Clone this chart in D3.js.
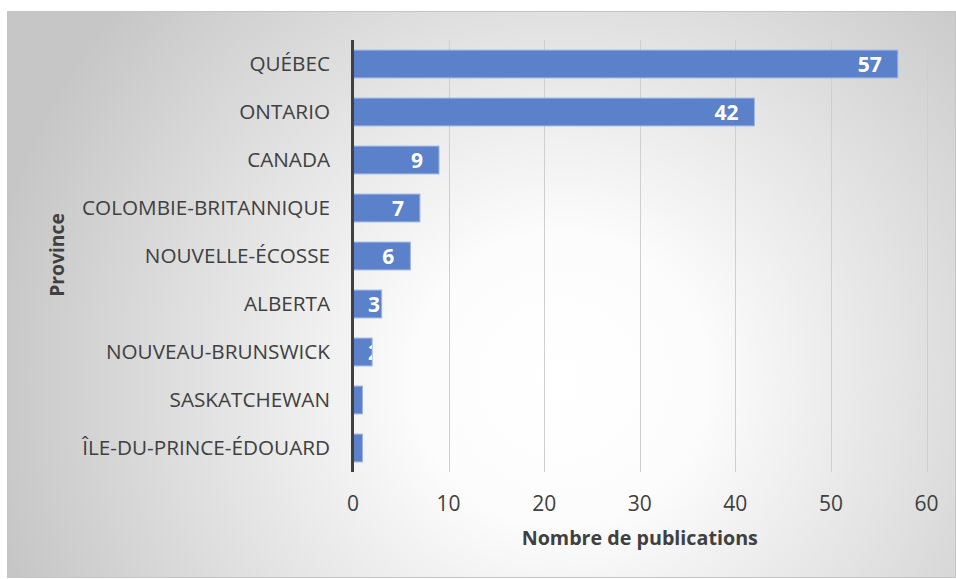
<!DOCTYPE html>
<html>
<head>
<meta charset="utf-8">
<script src="https://cdn.jsdelivr.net/npm/d3@7"></script>
<style>
  html, body { margin: 0; padding: 0; background: #ffffff; }
  svg { display: block; }
</style>
</head>
<body>
<svg id="chart" width="956" height="579"></svg>
<script>
const categories = ["QUÉBEC", "ONTARIO", "CANADA", "COLOMBIE-BRITANNIQUE", "NOUVELLE-ÉCOSSE", "ALBERTA", "NOUVEAU-BRUNSWICK", "SASKATCHEWAN", "ÎLE-DU-PRINCE-ÉDOUARD"];
const values = [57, 42, 9, 7, 6, 3, 2, 1, 1];
const xTicks = [0, 10, 20, 30, 40, 50, 60];
const xTitle = "Nombre de publications";
const yTitle = "Province";

const svg = d3.select("#chart");
const FONT = "'Open Sans', 'Noto Sans', sans-serif";
const TXT = "#404040";

// background
const defs = svg.append("defs");
const grad = defs.append("radialGradient").attr("id", "bg")
  .attr("gradientUnits", "userSpaceOnUse")
  .attr("cx", 560).attr("cy", 380).attr("r", 580);
grad.append("stop").attr("offset", "0%").attr("stop-color", "#ffffff");
grad.append("stop").attr("offset", "25%").attr("stop-color", "#fcfcfc");
grad.append("stop").attr("offset", "100%").attr("stop-color", "#c6c6c6");

svg.append("rect").attr("x", 7.5).attr("y", 11.5).attr("width", 948).attr("height", 566)
  .attr("fill", "url(#bg)").attr("stroke", "#c4c4c4").attr("stroke-width", 1);

const x = d3.scaleLinear().domain([0, 60]).range([353, 926.5]);
const y = d3.scaleBand().domain(categories).range([40, 472]).paddingInner(0.42).paddingOuter(0.21);

// gridlines
svg.append("g").selectAll("line").data(xTicks.filter(d => d > 0)).join("line")
  .attr("x1", d => Math.round(x(d)) + 0.5).attr("x2", d => Math.round(x(d)) + 0.5)
  .attr("y1", 40).attr("y2", 472)
  .attr("stroke", "#cfcfcf").attr("stroke-width", 1);

// bars
const barsG = svg.append("g");
const data = categories.map((c, i) => ({ c, v: values[i], i }));
data.forEach(d => {
  defs.append("clipPath").attr("id", "clip" + d.i)
    .append("rect").attr("x", x(0)).attr("y", y(d.c)).attr("width", x(d.v) - x(0)).attr("height", y.bandwidth());
});
barsG.selectAll("rect").data(data).join("rect")
  .attr("x", x(0)).attr("y", d => y(d.c))
  .attr("width", d => x(d.v) - x(0)).attr("height", y.bandwidth())
  .attr("fill", "#5a81c9").attr("stroke", "#9fb5e0").attr("stroke-width", 1);

// labels
const lblG = svg.append("g");
data.forEach(d => {
  const t = lblG.append("text")
    .attr("clip-path", "url(#clip" + d.i + ")")
    .attr("y", y(d.c) + y.bandwidth() / 2)
    .attr("dy", "0.36em")
    .attr("font-family", FONT).attr("font-size", 21).attr("font-weight", "bold")
    .attr("fill", "#ffffff").text(d.v);
  const w = t.node().getComputedTextLength();
  const xs = Math.max(x(d.v) - 16 - w, x(0) + 15);
  t.attr("x", xs);
});

// y axis line
svg.append("line").attr("x1", 352.5).attr("x2", 352.5).attr("y1", 40).attr("y2", 472)
  .attr("stroke", "#404040").attr("stroke-width", 3);

// category labels
svg.append("g").selectAll("text").data(categories).join("text")
  .attr("x", 330).attr("y", d => y(d) + y.bandwidth() / 2).attr("dy", "0.36em")
  .attr("text-anchor", "end").attr("font-family", FONT).attr("font-size", 20.7)
  .attr("fill", TXT).text(d => d);

// x tick labels
svg.append("g").selectAll("text").data(xTicks).join("text")
  .attr("x", d => x(d)).attr("y", 511).attr("text-anchor", "middle")
  .attr("font-family", FONT).attr("font-size", 21).attr("fill", TXT).text(d => d);

// titles
svg.append("text").attr("x", (x(0) + x(60)) / 2).attr("y", 545).attr("text-anchor", "middle")
  .attr("font-family", FONT).attr("font-size", 19.7).attr("font-weight", "bold").attr("fill", TXT).text(xTitle);
svg.append("text").attr("transform", "translate(64,255) rotate(-90)").attr("text-anchor", "middle")
  .attr("font-family", FONT).attr("font-size", 19.3).attr("font-weight", "bold").attr("fill", TXT).text(yTitle);
</script>
</body>
</html>
